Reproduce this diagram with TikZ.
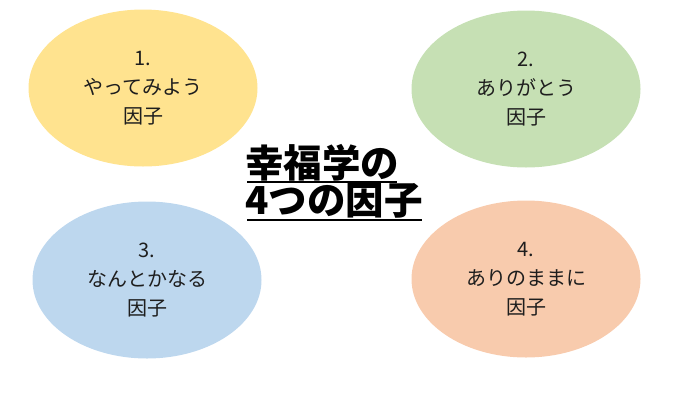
\documentclass[tikz,border=0pt]{standalone}
\usepackage{fontspec}
\newfontfamily\cjk{Noto Sans CJK JP}
\usepackage{tikz}
\usetikzlibrary{shapes.geometric, positioning}

\definecolor{yellowfill}{HTML}{FFE38F}
\definecolor{greenfill}{HTML}{C6E0B4}
\definecolor{bluefill}{HTML}{BDD7EE}
\definecolor{orangefill}{HTML}{F8CBAD}
\definecolor{inkgray}{HTML}{1E1E1E}

\tikzstyle{factor} = [ellipse, inner sep=0pt, minimum width=229pt, minimum height=157pt,
  align=center, text=inkgray, font=\cjk\fontsize{20}{29}\selectfont]
\tikzstyle{titleline} = [anchor=west, inner sep=0pt, text=black,
  font=\cjk\bfseries\fontsize{38.5}{38}\selectfont]
\tikzstyle{uline} = [line width=2.5pt, black]

\begin{document}
\begin{tikzpicture}[x=1pt, y=-1pt]

   % Fix the page size
   \useasboundingbox (0,0) rectangle (700,400);

   % Draw the four factor ellipses
   \node[factor, fill=yellowfill] (one) at (143,88) {1.\\やってみよう\\因子};
   \node[factor, fill=greenfill] (two) at (526,89) {2.\\ありがとう\\因子};
   \node[factor, fill=bluefill] (three) at (147,280) {3.\\なんとかなる\\因子};
   \node[factor, fill=orangefill] (four) at (526,279) {4.\\ありのままに\\因子};

   % Add the title in the middle
   \node[titleline] (titleA) at (245,163) {幸福学の};
   \node[titleline] (titleB) at (245,201) {4つの因子};

   % Underline each title line
   \coordinate (ulA) at (247,182);
   \coordinate (urA) at (397,182);
   \coordinate (ulB) at (247,220);
   \coordinate (urB) at (422,220);
   \draw[uline] (ulA) -- (urA);
   \draw[uline] (ulB) -- (urB);

\end{tikzpicture}
\end{document}
